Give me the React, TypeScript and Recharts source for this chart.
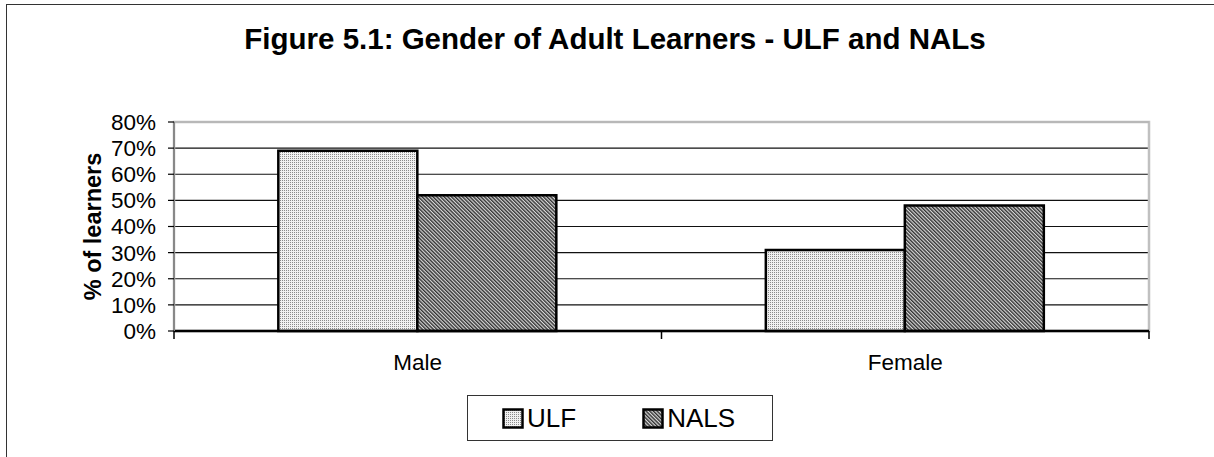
import {
  BarChart,
  Bar,
  XAxis,
  YAxis,
  CartesianGrid,
  Legend,
  ReferenceArea,
  ReferenceLine,
} from "recharts";

const categories = ["Male", "Female"];
const ulfValues = [0.69, 0.31];
const nalsValues = [0.52, 0.48];
const yTicks = [0, 0.1, 0.2, 0.3, 0.4, 0.5, 0.6, 0.7, 0.8];
const seriesOrder = ["ULF", "NALS"];

const data = categories.map((gender, i) => ({
  gender,
  ULF: ulfValues[i],
  NALS: nalsValues[i],
}));

const FONT = "'Liberation Sans', Arial, sans-serif";

function GenderTick(props: any) {
  const { x, y, payload, index, visibleTicksCount } = props;
  const half = payload.offset || 0;
  return (
    <g>
      <line x1={x - half} y1={y} x2={x - half} y2={y + 8} stroke="#000" strokeWidth={1.5} />
      {index === visibleTicksCount - 1 && (
        <line x1={x + half} y1={y} x2={x + half} y2={y + 8} stroke="#000" strokeWidth={1.5} />
      )}
      <text x={x} y={y + 39} textAnchor="middle" fontSize={22.5} fontFamily={FONT} fill="#000">
        {payload.value}
      </text>
    </g>
  );
}

function LegendBox(props: any) {
  const items = [...(props.payload || [])].sort(
    (a: any, b: any) => seriesOrder.indexOf(a.value) - seriesOrder.indexOf(b.value)
  );
  return (
    <div
      style={{
        width: 306,
        height: 46,
        boxSizing: "border-box",
        border: "1.5px solid #333",
        background: "#fff",
        display: "flex",
        alignItems: "center",
        paddingLeft: 34,
        fontFamily: FONT,
        fontSize: 26,
        color: "#000",
      }}
    >
      {items.map((it: any, i: number) => (
        <span
          key={it.value}
          style={{ display: "flex", alignItems: "center", marginLeft: i === 0 ? 0 : 66 }}
        >
          <svg width={23} height={21} style={{ marginRight: 2 }}>
            <rect x={1.5} y={1.5} width={19} height={18} fill={it.color} stroke="#000" strokeWidth={2.5} />
          </svg>
          {it.value}
        </span>
      ))}
    </div>
  );
}

export default function App() {
  return (
    <div
      style={{
        position: "absolute",
        left: 0,
        top: 0,
        width: 1214,
        height: 457,
        overflow: "hidden",
        background: "#fff",
      }}
    >
      <div
        style={{
          position: "absolute",
          left: 6,
          top: 4,
          width: 1400,
          height: 600,
          border: "1.5px solid #333",
        }}
      />
      <div
        style={{
          position: "absolute",
          left: 0,
          top: 24,
          width: 1230,
          textAlign: "center",
          fontFamily: FONT,
          fontWeight: "bold",
          fontSize: 29.5,
          lineHeight: "29px",
          color: "#000",
        }}
      >
        Figure 5.1: Gender of Adult Learners - ULF and NALs
      </div>
      <BarChart
        width={1214}
        height={457}
        data={data}
        margin={{ top: 122, right: 65, bottom: 86, left: 74 }}
        barCategoryGap="21.4%"
        barGap={0}
        style={{ position: "absolute", left: 0, top: 0 }}
      >
        <defs>
          <pattern id="ulfDots" width={2} height={2} patternUnits="userSpaceOnUse">
            <rect width={2} height={2} fill="#f0f0f0" />
            <rect width={1} height={1} fill="#8a8a8a" />
          </pattern>
          <pattern
            id="nalsHatch"
            width={2.6}
            height={2.6}
            patternUnits="userSpaceOnUse"
            patternTransform="rotate(-45)"
          >
            <rect width={2.6} height={2.6} fill="#d8d8d8" />
            <rect width={1.4} height={2.6} fill="#333" />
          </pattern>
        </defs>
        <ReferenceArea y1={0} y2={0.8} fill="none" stroke="#c0c0c0" strokeWidth={2.5} ifOverflow="visible" />
        <CartesianGrid vertical={false} stroke="#111" strokeWidth={1.2} />
        <ReferenceLine y={0.8} stroke="#b8b8b8" strokeWidth={2} />
        <XAxis
          dataKey="gender"
          height={40}
          axisLine={{ stroke: "#000", strokeWidth: 2.5 }}
          tickLine={false}
          tickSize={0}
          tickMargin={0}
          tick={<GenderTick />}
          interval={0}
        />
        <YAxis
          width={100}
          domain={[0, 0.8]}
          ticks={yTicks}
          interval={0}
          tickFormatter={(v: number) => `${Math.round(v * 100)}%`}
          axisLine={{ stroke: "#888", strokeWidth: 2 }}
          tickLine={{ stroke: "#000", strokeWidth: 1.2 }}
          tickSize={6}
          tickMargin={12}
          tick={{ fill: "#000", fontSize: 22.5, fontFamily: FONT }}
          label={({ viewBox }: any) => (
            <text
              x={viewBox.x + 19}
              y={viewBox.y + viewBox.height / 2}
              transform={`rotate(-90 ${viewBox.x + 19} ${viewBox.y + viewBox.height / 2})`}
              textAnchor="middle"
              dominantBaseline="central"
              fontFamily={FONT}
              fontWeight="bold"
              fontSize={23.5}
              fill="#000"
            >
              % of learners
            </text>
          )}
        />
        <Bar dataKey="ULF" fill="url(#ulfDots)" stroke="#000" strokeWidth={2.5} isAnimationActive={false} />
        <Bar dataKey="NALS" fill="url(#nalsHatch)" stroke="#000" strokeWidth={2.5} isAnimationActive={false} />
        <Legend
          layout="horizontal"
          verticalAlign="middle"
          align="center"
          content={<LegendBox />}
          wrapperStyle={{ left: 467, top: 395, width: 306, height: 46 }}
        />
      </BarChart>
    </div>
  );
}
